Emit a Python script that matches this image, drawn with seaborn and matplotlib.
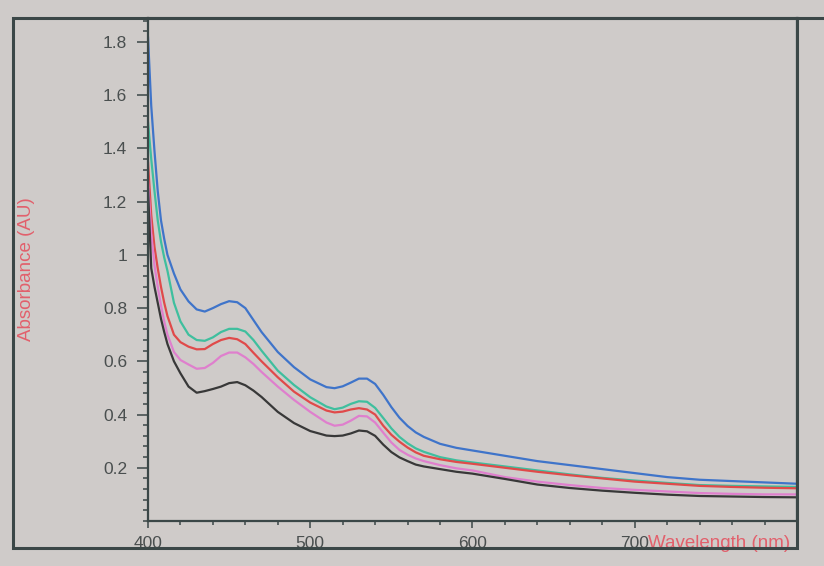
import pandas as pd
import matplotlib
matplotlib.use('Agg')
import matplotlib.pyplot as plt
from matplotlib.patches import Rectangle
from matplotlib.lines import Line2D
from matplotlib.ticker import MultipleLocator, FormatStrFormatter
import seaborn as sns

wavelength = [400, 402, 404, 406, 408, 410, 412, 416, 420, 425, 430, 435, 440, 445,
              450, 455, 460, 465, 470, 480, 490, 500, 510, 515, 520, 525, 530, 535,
              540, 545, 550, 555, 560, 565, 570, 580, 590, 600, 620, 640, 660, 680,
              700, 720, 740, 760, 780, 800]

blue_abs = [1.82, 1.56, 1.39, 1.24, 1.13, 1.06, 1.00, 0.93, 0.87, 0.825, 0.795, 0.787,
            0.80, 0.815, 0.826, 0.822, 0.80, 0.755, 0.71, 0.635, 0.578, 0.532, 0.503,
            0.499, 0.506, 0.52, 0.535, 0.535, 0.515, 0.474, 0.428, 0.388, 0.357, 0.333,
            0.316, 0.29, 0.275, 0.265, 0.245, 0.225, 0.21, 0.195, 0.18, 0.165, 0.155,
            0.15, 0.145, 0.14]

teal_abs = [1.50, 1.36, 1.24, 1.13, 1.05, 0.99, 0.94, 0.82, 0.75, 0.70, 0.68, 0.677,
            0.69, 0.71, 0.722, 0.722, 0.712, 0.68, 0.64, 0.565, 0.511, 0.465, 0.43,
            0.42, 0.426, 0.44, 0.45, 0.448, 0.425, 0.387, 0.348, 0.316, 0.292, 0.273,
            0.26, 0.24, 0.228, 0.22, 0.205, 0.19, 0.175, 0.162, 0.152, 0.143, 0.135,
            0.132, 0.13, 0.128]

red_abs = [1.35, 1.15, 1.03, 0.95, 0.88, 0.82, 0.77, 0.70, 0.672, 0.655, 0.645, 0.646,
           0.665, 0.68, 0.688, 0.683, 0.665, 0.632, 0.60, 0.54, 0.486, 0.445, 0.415,
           0.408, 0.411, 0.419, 0.424, 0.419, 0.40, 0.358, 0.324, 0.298, 0.276, 0.258,
           0.245, 0.232, 0.222, 0.215, 0.2, 0.185, 0.172, 0.16, 0.148, 0.14, 0.132,
           0.128, 0.125, 0.123]

pink_abs = [1.28, 1.08, 0.96, 0.88, 0.81, 0.75, 0.70, 0.635, 0.605, 0.588, 0.572, 0.575,
            0.594, 0.62, 0.633, 0.633, 0.615, 0.59, 0.56, 0.505, 0.455, 0.41, 0.37,
            0.358, 0.362, 0.377, 0.395, 0.393, 0.37, 0.332, 0.295, 0.267, 0.249, 0.235,
            0.225, 0.21, 0.198, 0.19, 0.165, 0.148, 0.135, 0.124, 0.117, 0.111, 0.105,
            0.102, 0.1, 0.1]

black_abs = [1.25, 0.95, 0.88, 0.82, 0.76, 0.71, 0.665, 0.60, 0.555, 0.505, 0.482, 0.488,
             0.496, 0.505, 0.518, 0.522, 0.51, 0.49, 0.466, 0.41, 0.368, 0.338, 0.321,
             0.319, 0.321, 0.329, 0.34, 0.337, 0.32, 0.287, 0.259, 0.239, 0.225, 0.212,
             0.205, 0.195, 0.185, 0.178, 0.158, 0.137, 0.124, 0.114, 0.106, 0.099,
             0.094, 0.092, 0.09, 0.089]

x_ticks = [400, 500, 600, 700]
y_ticks = [0.2, 0.4, 0.6, 0.8, 1.0, 1.2, 1.4, 1.6, 1.8]

samples = ['blue', 'teal', 'red', 'pink', 'black']
colors = {'blue': '#3f74c9', 'teal': '#3fbf9e', 'red': '#e04a4a',
          'pink': '#df7fcd', 'black': '#383838'}

frames = []
for name, vals in zip(samples, [blue_abs, teal_abs, red_abs, pink_abs, black_abs]):
    frames.append(pd.DataFrame({'Wavelength': wavelength, 'Absorbance': vals, 'sample': name}))
df = pd.concat(frames, ignore_index=True)

sns.set_style('ticks')
plt.rcParams['font.family'] = ['Liberation Sans', 'DejaVu Sans']

bg = '#cfcbc9'
line_col = '#3b4747'
label_red = '#e2606c'

fig = plt.figure(figsize=(8.24, 5.66), dpi=100, facecolor=bg)
ax = fig.add_axes([0.1796, 0.0795, 0.7876, 0.8887], facecolor=bg)

sns.lineplot(data=df, x='Wavelength', y='Absorbance', hue='sample', hue_order=samples,
             palette=colors, linewidth=1.6, legend=False, errorbar=None, ax=ax)

ax.set_xlim(400, 800)
ax.set_ylim(0, 1.89)

ax.set_xticks(x_ticks)
ax.xaxis.set_minor_locator(MultipleLocator(20))
ax.set_yticks(y_ticks)
ax.yaxis.set_minor_locator(MultipleLocator(0.04))
ax.yaxis.set_major_formatter(FormatStrFormatter('%g'))

ax.tick_params(axis='x', which='major', length=5, width=1.1, pad=6,
               labelsize=12.5, colors=line_col, labelcolor='#4a4f4f')
ax.tick_params(axis='x', which='minor', length=3, width=1.1, colors=line_col)
ax.tick_params(axis='y', which='major', length=8, width=1.1, pad=7,
               labelsize=12.5, colors=line_col, labelcolor='#4a4f4f')
ax.tick_params(axis='y', which='minor', length=3.5, width=1.1, colors=line_col)

for side in ['left', 'bottom', 'top', 'right']:
    ax.spines[side].set_visible(True)
    ax.spines[side].set_color(line_col)
    ax.spines[side].set_linewidth(1.6)
ax.spines['top'].set_linewidth(2.2)
ax.spines['right'].set_color('#3d5a6a')

ax.set_ylabel('Absorbance (AU)', color=label_red, fontsize=13.5)
ax.yaxis.set_label_coords(-0.174, 0.5)
ax.set_xlabel('Wavelength (nm)', color=label_red, fontsize=13.5, ha='right', va='top')
ax.xaxis.set_label_coords(0.99, -0.028)

# outer window frame around the plot
left = 0.016
bottom = 0.032
right = 0.1796 + 0.7876
top = 0.0795 + 0.8887
fig.patches.append(Rectangle((left, bottom), right - left, top - bottom,
                             transform=fig.transFigure, fill=False,
                             lw=2.2, ec=line_col, zorder=0))
fig.lines.append(Line2D([right, 1.0], [top, top], transform=fig.transFigure,
                        lw=2.2, color=line_col))

fig.savefig('out.png', dpi=100, facecolor=bg)
plt.close(fig)
